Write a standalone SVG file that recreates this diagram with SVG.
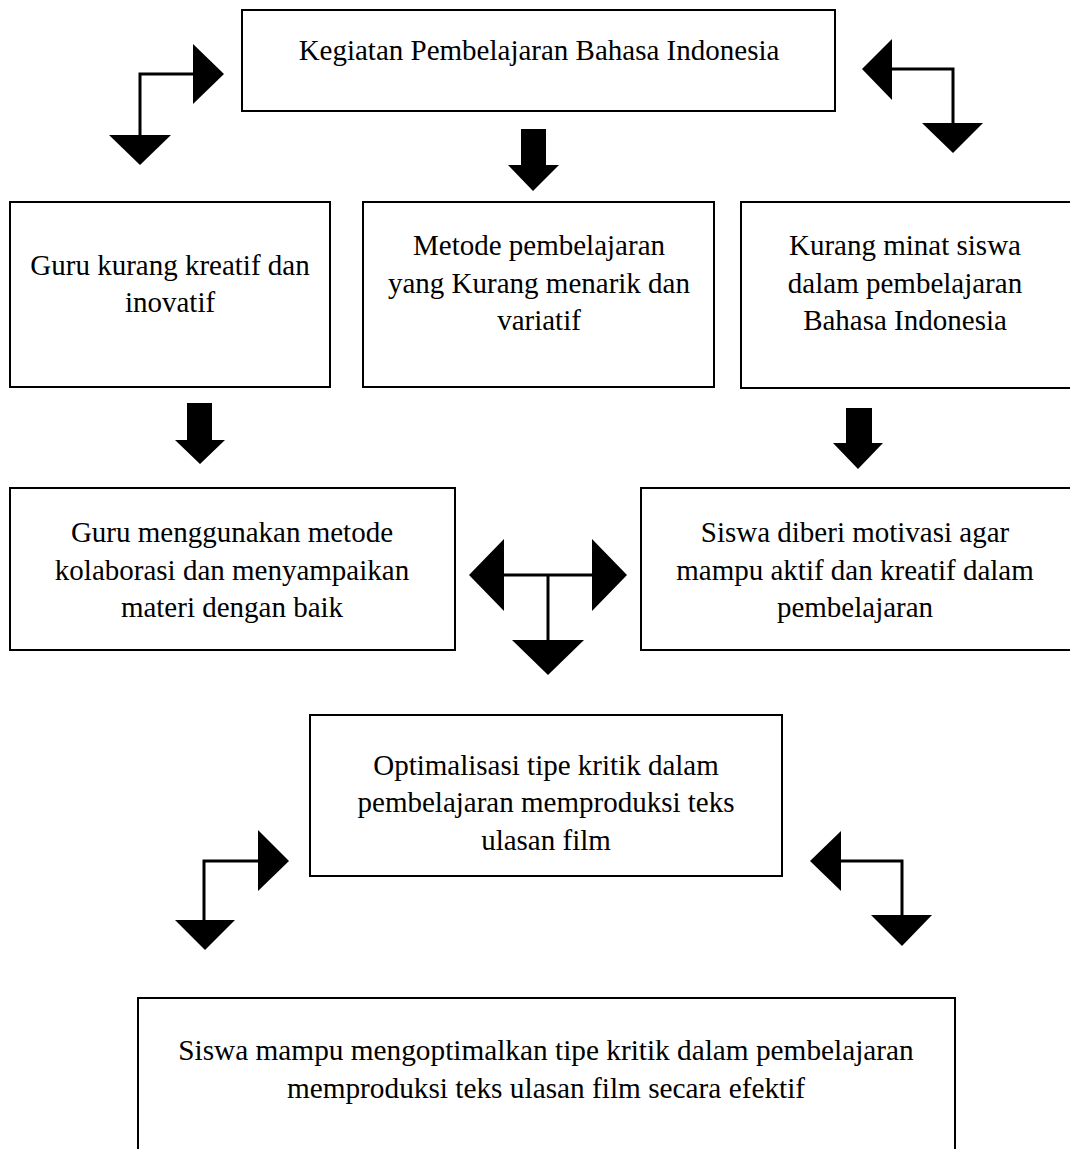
<svg xmlns="http://www.w3.org/2000/svg" width="1070" height="1149" viewBox="0 0 1070 1149">
<style>
.box{fill:#fff;stroke:#000;stroke-width:2}
.t{font-family:"Liberation Serif","Times New Roman",serif;font-size:29px;fill:#000;text-anchor:middle}
.ln{fill:none;stroke:#000;stroke-width:3}
.hd{fill:#000}
</style>
<rect width="1070" height="1149" fill="#fff"/>
<g id="connectors">
<polyline class="ln" points="193,74 140,74 140,135"/>
<polygon class="hd" points="193,44 224,74 193,104"/>
<polygon class="hd" points="109,135 171,135 140,165"/>
<polygon class="hd" points="521,129 546,129 546,165 559,165 533,191 508,165 521,165"/>
<polyline class="ln" points="892,69 953,69 953,123"/>
<polygon class="hd" points="892,39 862,69 892,100"/>
<polygon class="hd" points="922,123 983,123 953,153"/>
<polygon class="hd" points="187,403 212,403 212,440 225,440 200,464 175,440 187,440"/>
<polygon class="hd" points="846,408 872,408 872,443 883,443 858,469 833,443 846,443"/>
<polyline class="ln" points="504,575 592,575"/>
<polyline class="ln" points="548,575 548,640"/>
<polygon class="hd" points="504,539 469,575 504,611"/>
<polygon class="hd" points="592,539 627,575 592,611"/>
<polygon class="hd" points="512,640 584,640 548,675"/>
<polyline class="ln" points="258,861 204,861 204,920"/>
<polygon class="hd" points="258,830 289,861 258,891"/>
<polygon class="hd" points="175,920 235,920 205,950"/>
<polyline class="ln" points="841,861 902,861 902,915"/>
<polygon class="hd" points="841,831 810,861 841,891"/>
<polygon class="hd" points="871,915 932,915 902,946"/>
</g>
<g id="n0"><rect class="box" x="242" y="10" width="593" height="101"/>
<text class="t" x="539" y="60">Kegiatan Pembelajaran Bahasa Indonesia</text></g>
<g id="n1"><rect class="box" x="10" y="202" width="320" height="185"/>
<text class="t" x="170" y="275">Guru kurang kreatif dan</text>
<text class="t" x="170" y="312">inovatif</text></g>
<g id="n2"><rect class="box" x="363" y="202" width="351" height="185"/>
<text class="t" x="539" y="255">Metode pembelajaran</text>
<text class="t" x="539" y="293">yang Kurang menarik dan</text>
<text class="t" x="539" y="330">variatif</text></g>
<g id="n3"><rect class="box" x="741" y="202" width="340" height="186"/>
<text class="t" x="905" y="255">Kurang minat siswa</text>
<text class="t" x="905" y="293">dalam pembelajaran</text>
<text class="t" x="905" y="330">Bahasa Indonesia</text></g>
<g id="n4"><rect class="box" x="10" y="488" width="445" height="162"/>
<text class="t" x="232" y="542">Guru menggunakan metode</text>
<text class="t" x="232" y="580">kolaborasi dan menyampaikan</text>
<text class="t" x="232" y="617">materi dengan baik</text></g>
<g id="n5"><rect class="box" x="641" y="488" width="440" height="162"/>
<text class="t" x="855" y="542">Siswa diberi motivasi agar</text>
<text class="t" x="855" y="580">mampu aktif dan kreatif dalam</text>
<text class="t" x="855" y="617">pembelajaran</text></g>
<g id="n6"><rect class="box" x="310" y="715" width="472" height="161"/>
<text class="t" x="546" y="775">Optimalisasi tipe kritik dalam</text>
<text class="t" x="546" y="812">pembelajaran memproduksi teks</text>
<text class="t" x="546" y="850">ulasan film</text></g>
<g id="n7"><rect class="box" x="138" y="998" width="817" height="170"/>
<text class="t" x="546" y="1060" style="font-size:29.3px">Siswa mampu mengoptimalkan tipe kritik dalam pembelajaran</text>
<text class="t" x="546" y="1098" style="font-size:29.3px">memproduksi teks ulasan film secara efektif</text></g>
</svg>
